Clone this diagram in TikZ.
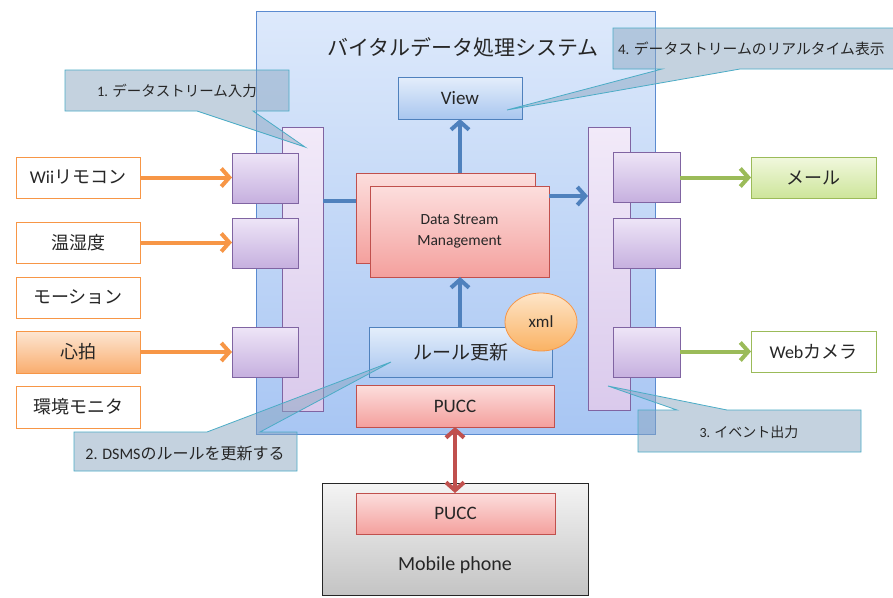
\documentclass[tikz,border=0pt]{standalone}
\usepackage{fontspec}
\setmainfont{Carlito}
\newfontfamily\jp{Noto Sans CJK JP}
\usetikzlibrary{arrows.meta,shapes.geometric,calc}
\definecolor{mainT}{HTML}{DDE9FB}
\definecolor{mainM}{HTML}{A8C6F3}
\definecolor{mainB}{HTML}{5B8BD0}
\definecolor{barT}{HTML}{F2EAF9}
\definecolor{barM}{HTML}{DACAEC}
\definecolor{purB}{HTML}{8064A2}
\definecolor{pbT}{HTML}{EEE5F7}
\definecolor{pbM}{HTML}{C6B0DF}
\definecolor{viewT}{HTML}{E4EEFB}
\definecolor{viewM}{HTML}{A9C6EF}
\definecolor{blueB}{HTML}{4F81BD}
\definecolor{redT}{HTML}{FCDEDD}
\definecolor{redM}{HTML}{F4A09D}
\definecolor{redB}{HTML}{C0504D}
\definecolor{grayT}{HTML}{F4F4F4}
\definecolor{grayM}{HTML}{C4C4C4}
\definecolor{orB}{HTML}{F79646}
\definecolor{orT}{HTML}{FDE6D3}
\definecolor{orM}{HTML}{F9AD6E}
\definecolor{grB}{HTML}{9BBB59}
\definecolor{grT}{HTML}{F1F8DE}
\definecolor{grM}{HTML}{CDE59A}
\definecolor{xmlT}{HTML}{FEE5C8}
\definecolor{xmlM}{HTML}{FAB263}
\definecolor{callF}{HTML}{8AA6C1}
\definecolor{callB}{HTML}{4BACC6}
\definecolor{txt}{HTML}{262626}
\tikzset{
  box/.style={draw, inner sep=0pt, outer sep=0pt, anchor=north west, line width=0.8pt, text=txt},
  mainbox/.style={box, draw=mainB, top color=mainT, bottom color=mainM},
  barbox/.style={box, draw=purB, top color=barT, bottom color=barM},
  purbox/.style={box, draw=purB, top color=pbT, bottom color=pbM},
  viewbox/.style={box, draw=blueB, top color=viewT, bottom color=viewM},
  redbox/.style={box, draw=redB, top color=redT, bottom color=redM},
  graybox/.style={box, draw=black!85, top color=grayT, bottom color=grayM},
  inbox/.style={box, draw=orB, fill=white, font=\fontsize{18}{21}\selectfont},
  hotbox/.style={box, draw=orB, top color=orT, bottom color=orM, font=\fontsize{18}{21}\selectfont},
  outbox/.style={box, draw=grB, fill=white, font=\fontsize{18}{21}\selectfont},
  mailbox/.style={box, draw=grB, top color=grT, bottom color=grM, font=\fontsize{18}{21}\selectfont},
  callout/.style={draw=callB, line width=0.8pt, fill=callF, fill opacity=0.5},
  calltext/.style={text=txt, inner sep=0pt},
  arr/.style={line width=4pt, -{Straight Barb[length=8pt,width=18pt]}},
  oarr/.style={arr, draw=orB},
  garr/.style={arr, draw=grB},
  barr/.style={arr, draw=blueB},
  rarr/.style={line width=4pt, draw=redB, {Straight Barb[length=8pt,width=18pt]}-{Straight Barb[length=8pt,width=18pt]}},
}
\begin{document}
\begin{tikzpicture}[x=1pt,y=-1pt]
\useasboundingbox (0,0) rectangle (893,597);
\clip (0,0) rectangle (893,597);
\fill[white] (0,0) rectangle (893,597);
% main system box
\node[mainbox, minimum width=399pt, minimum height=423pt] (sys) at (256,11) {};
\node[text=txt, inner sep=0pt, font=\jp\fontsize{21}{24}\selectfont] (title) at (463,47) {バイタルデータ処理システム};
% bars
\node[barbox, minimum width=41pt, minimum height=284pt] (lbar) at (282,127) {};
\node[barbox, minimum width=42pt, minimum height=283pt] (rbar) at (588,127) {};
% left purple boxes
\node[purbox, minimum width=66pt, minimum height=50pt] (lp1) at (232,153) {};
\node[purbox, minimum width=66pt, minimum height=50pt] (lp2) at (232,218) {};
\node[purbox, minimum width=66pt, minimum height=50pt] (lp3) at (232,327) {};
% right purple boxes
\node[purbox, minimum width=67pt, minimum height=50pt] (rp1) at (613,152) {};
\node[purbox, minimum width=67pt, minimum height=50pt] (rp2) at (613,218) {};
\node[purbox, minimum width=67pt, minimum height=50pt] (rp3) at (613,327) {};
% input boxes
\node[inbox, minimum width=124pt, minimum height=41pt] (wii) at (16,157) {Wii{\jp リモコン}};
\node[inbox, minimum width=124pt, minimum height=41pt] (temp) at (16,222) {\jp 温湿度};
\node[inbox, minimum width=124pt, minimum height=41pt] (mot) at (16,277) {\jp モーション};
\node[hotbox, minimum width=124pt, minimum height=42pt] (hb) at (16,331) {\jp 心拍};
\node[inbox, minimum width=124pt, minimum height=42pt] (env) at (16,386) {\jp 環境モニタ};
% output boxes
\node[mailbox, minimum width=125pt, minimum height=41pt] (mail) at (751,157) {\jp メール};
\node[outbox, minimum width=125pt, minimum height=41pt] (cam) at (751,331) {Web{\jp カメラ}};
% input arrows
\draw[oarr] (wii.east) -- (lp1.west |- wii.east);
\draw[oarr] (temp.east) -- (lp2.west |- temp.east);
\draw[oarr] (hb.east) -- (lp3.west |- hb.east);
% output arrows
\draw[garr] (rp1.east |- mail.west) -- (mail.west);
\draw[garr] (rp3.east |- cam.west) -- (cam.west);
% view
\node[viewbox, minimum width=124pt, minimum height=42pt, font=\fontsize{19}{21}\selectfont] (view) at (398,77) {View};
% line into DSM
\coordinate (inY) at (340,201);
\coordinate (outY) at (560,196);
\draw[line width=4pt, draw=blueB] (lbar.east |- inY) -- (370,201);
% DSM
\node[redbox, minimum width=179pt, minimum height=90pt] (dsmb) at (356,173) {};
\node[redbox, minimum width=179pt, minimum height=91pt, align=center, font=\fontsize{15.5}{21}\selectfont] (dsmf) at (370,186) {Data Stream\\Management};
\draw[barr] (dsmb.north -| view.south) -- (view.south);
\draw[barr] (dsmf.east |- outY) -- (rbar.west |- outY);
% rule
\node[viewbox, minimum width=183pt, minimum height=50pt, font=\jp\fontsize{19}{22}\selectfont] (rule) at (369,327) {ルール更新};
\draw[barr] (rule.north -| view.south) -- (dsmf.south -| view.south);
\node[ellipse, draw=orB, line width=0.8pt, top color=xmlT, bottom color=xmlM, minimum width=72pt, minimum height=58pt, inner sep=0pt, text=txt, font=\fontsize{17}{20}\selectfont] (xml) at (541,322) {xml};
% PUCC
\node[redbox, minimum width=198pt, minimum height=42pt, font=\fontsize{19}{21}\selectfont] (pucc1) at (356,385) {PUCC};
% mobile
\node[graybox, minimum width=266pt, minimum height=112pt] (mob) at (322,483) {};
\node[redbox, minimum width=199pt, minimum height=41pt, font=\fontsize{19}{21}\selectfont] (pucc2) at (356,493) {PUCC};
\node[text=txt, inner sep=0pt, font=\fontsize{20}{22}\selectfont] (mobl) at (455,565) {Mobile phone};
\draw[rarr] (pucc1.south -| mobl.north) -- (pucc2.north -| mobl.north);
% callouts
\path[callout] (65,70) -- (289,70) -- (289,111) -- (253,111) -- (305,147) -- (197,111) -- (65,111) -- cycle;
\node[calltext, font=\fontsize{14.5}{16}\selectfont] (c1) at (177,91) {1. {\jp データストリーム入力}};
\path[callout] (74,432) -- (207,432) -- (391,362) -- (260,432) -- (297,432) -- (297,471) -- (74,471) -- cycle;
\node[calltext, font=\fontsize{16}{17}\selectfont] (c2) at (185,453) {2. DSMS{\jp のルールを更新する}};
\path[callout] (638,410) -- (677,410) -- (608,386) -- (727,410) -- (861,410) -- (861,452) -- (638,452) -- cycle;
\node[calltext, font=\fontsize{14}{16}\selectfont] (c3) at (749,432) {3. {\jp イベント出力}};
\path[callout] (613,28) -- (910,28) -- (910,69) -- (740,69) -- (507,110) -- (662,69) -- (613,69) -- cycle;
\node[calltext, font=\fontsize{14.8}{17}\selectfont, anchor=west] (c4) at (618,49) {4. {\jp データストリームのリアルタイム表示}};
\end{tikzpicture}
\end{document}
